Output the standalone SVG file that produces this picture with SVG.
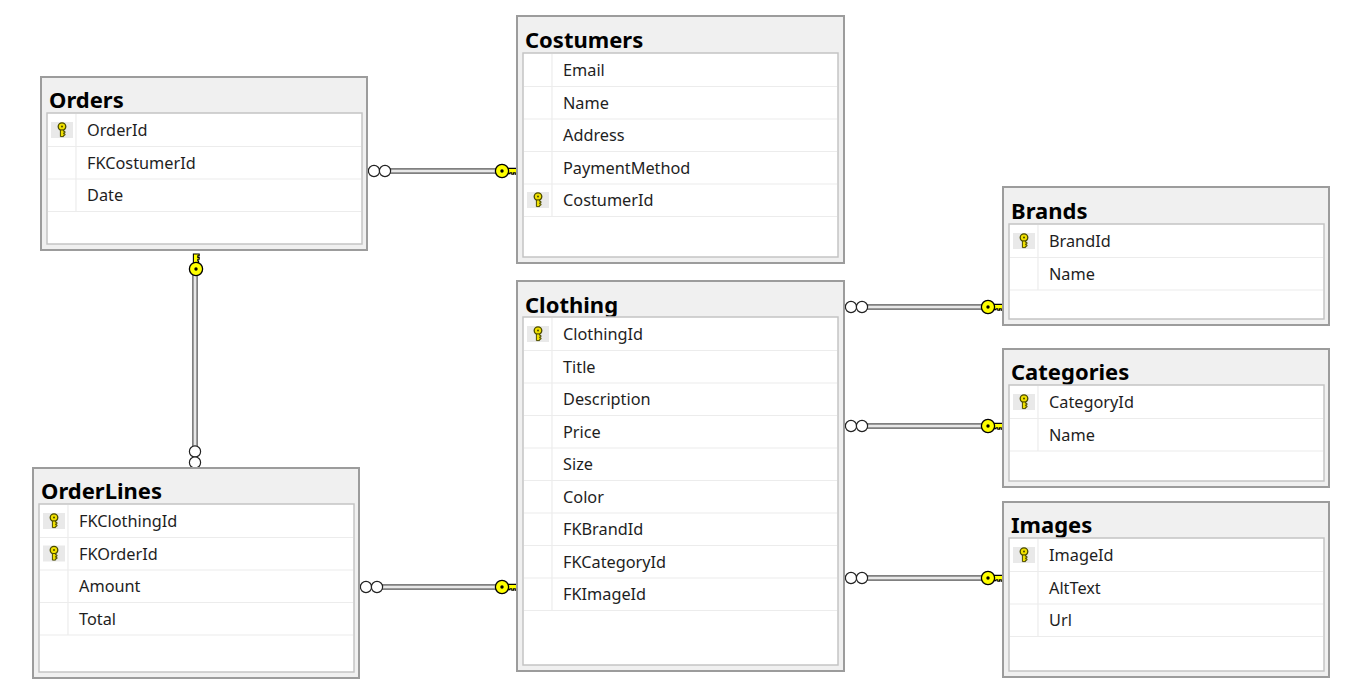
<svg xmlns="http://www.w3.org/2000/svg" width="1345" height="694" viewBox="0 0 1345 694">
  <style>
    .outer { fill: #f0f0f0; stroke: #9c9c9c; stroke-width: 2; }
    .inner { fill: #ffffff; stroke: #c4c4c4; stroke-width: 1.5; }
    .rowline { stroke: #ececec; stroke-width: 1.2; }
    .colline { stroke: #ececec; stroke-width: 1.2; }
    .title { font-family: "Segoe UI", "Noto Sans", "Open Sans", sans-serif; font-weight: bold; font-size: 22px; fill: #000000; }
    .field { font-family: "Segoe UI", "Noto Sans", "Open Sans", sans-serif; font-size: 16.3px; fill: #1e1e1e; }
    .keybg { fill: #e9e9e9; }
    .line-out { stroke: #808080; stroke-width: 6; fill: none; }
    .line-in { stroke: #e8e8e8; stroke-width: 2.6; fill: none; }
  </style>
  <defs>
    <!-- primary-key glyph shown in the key column -->
    <g id="pk">
      <rect class="keybg" x="0" y="0" width="22" height="16"/>
      <circle cx="11" cy="4.6" r="3.8" fill="#f0e000" stroke="#4a4a00" stroke-width="1.3"/>
      <circle cx="11" cy="4.6" r="1" fill="#4a4a00"/>
      <path d="M9.4 8 V14.6 H12.6 V13.2 H14 V11.8 H12.6 V10.8 H14 V9.4 H12.6 V8 Z" fill="#f0e000" stroke="#4a4a00" stroke-width="1"/>
    </g>
    <!-- "one" end of a relationship: key pointing right -->
    <g id="keyend">
      <path d="M5 -2.6 H15 V3.2 H13.2 V1.8 H11.6 V3.2 H9.8 V1.8 H8 V2.6 H5 Z" fill="#ffff00" stroke="#000" stroke-width="1.1"/>
      <circle cx="0" cy="0" r="6.6" fill="#ffff00" stroke="#000" stroke-width="1.3"/>
      <circle cx="0" cy="0" r="1.7" fill="#000"/>
    </g>
    <!-- "many" end of a relationship: infinity sign -->
    <g id="manyend">
      <circle cx="0" cy="0" r="5.6" fill="#fff" stroke="#222" stroke-width="1.2"/>
      <circle cx="11" cy="0" r="5.6" fill="#fff" stroke="#222" stroke-width="1.2"/>
    </g>
  </defs>

  <rect x="0" y="0" width="1345" height="694" fill="#ffffff"/>

  <!-- relationships -->
  <g id="connectors">
    <!-- Orders -> Costumers -->
    <line class="line-out" x1="390" y1="171" x2="500" y2="171"/>
    <line class="line-in" x1="390" y1="171" x2="500" y2="171"/>
    <use href="#manyend" x="374" y="171"/>
    <use href="#keyend" x="502" y="171"/>
    <!-- OrderLines -> Orders -->
    <line class="line-out" x1="195" y1="265" x2="195" y2="447"/>
    <line class="line-in" x1="195" y1="265" x2="195" y2="447"/>
    <use href="#manyend" transform="translate(195 451.5) rotate(90)"/>
    <use href="#keyend" transform="translate(196 269) rotate(-90)"/>
    <!-- OrderLines -> Clothing -->
    <line class="line-out" x1="382" y1="587" x2="496" y2="587"/>
    <line class="line-in" x1="382" y1="587" x2="496" y2="587"/>
    <use href="#manyend" x="366" y="587"/>
    <use href="#keyend" x="502" y="587"/>
    <!-- Clothing -> Brands -->
    <line class="line-out" x1="866" y1="307" x2="982" y2="307"/>
    <line class="line-in" x1="866" y1="307" x2="982" y2="307"/>
    <use href="#manyend" x="851" y="307"/>
    <use href="#keyend" x="988" y="307"/>
    <!-- Clothing -> Categories -->
    <line class="line-out" x1="866" y1="426" x2="982" y2="426"/>
    <line class="line-in" x1="866" y1="426" x2="982" y2="426"/>
    <use href="#manyend" x="851" y="426"/>
    <use href="#keyend" x="988" y="426"/>
    <!-- Clothing -> Images -->
    <line class="line-out" x1="866" y1="578" x2="982" y2="578"/>
    <line class="line-in" x1="866" y1="578" x2="982" y2="578"/>
    <use href="#manyend" x="851" y="578"/>
    <use href="#keyend" x="988" y="578"/>
  </g>

  <!-- Orders -->
  <g id="orders" transform="translate(41 77)">
    <rect class="outer" x="0" y="0" width="326" height="173"/>
    <text class="title" x="8" y="31">Orders</text>
    <rect class="inner" x="6" y="36" width="315" height="131"/>
    <line class="colline" x1="35" y1="37" x2="35" y2="134.5"/>
    <line class="rowline" x1="7" y1="69.5" x2="320" y2="69.5"/>
    <line class="rowline" x1="7" y1="102" x2="320" y2="102"/>
    <line class="rowline" x1="7" y1="134.5" x2="320" y2="134.5"/>
    <use href="#pk" x="10" y="45"/>
    <text class="field" x="46" y="59">OrderId</text>
    <text class="field" x="46" y="91.5">FKCostumerId</text>
    <text class="field" x="46" y="124">Date</text>
  </g>

  <!-- Costumers -->
  <g id="costumers" transform="translate(517 16)">
    <rect class="outer" x="0" y="0" width="327" height="247"/>
    <text class="title" x="8" y="32">Costumers</text>
    <rect class="inner" x="6" y="37" width="315" height="204"/>
    <line class="colline" x1="35" y1="38" x2="35" y2="200.5"/>
    <line class="rowline" x1="7" y1="70.5" x2="320" y2="70.5"/>
    <line class="rowline" x1="7" y1="103" x2="320" y2="103"/>
    <line class="rowline" x1="7" y1="135.5" x2="320" y2="135.5"/>
    <line class="rowline" x1="7" y1="168" x2="320" y2="168"/>
    <line class="rowline" x1="7" y1="200.5" x2="320" y2="200.5"/>
    <use href="#pk" x="10" y="176"/>
    <text class="field" x="46" y="60">Email</text>
    <text class="field" x="46" y="92.5">Name</text>
    <text class="field" x="46" y="125">Address</text>
    <text class="field" x="46" y="157.5">PaymentMethod</text>
    <text class="field" x="46" y="190">CostumerId</text>
  </g>

  <!-- Clothing -->
  <g id="clothing" transform="translate(517 281)">
    <rect class="outer" x="0" y="0" width="327" height="390"/>
    <text class="title" x="8" y="32">Clothing</text>
    <rect class="inner" x="6" y="36" width="315" height="348"/>
    <line class="colline" x1="35" y1="37" x2="35" y2="329.5"/>
    <line class="rowline" x1="7" y1="69.5" x2="320" y2="69.5"/>
    <line class="rowline" x1="7" y1="102" x2="320" y2="102"/>
    <line class="rowline" x1="7" y1="134.5" x2="320" y2="134.5"/>
    <line class="rowline" x1="7" y1="167" x2="320" y2="167"/>
    <line class="rowline" x1="7" y1="199.5" x2="320" y2="199.5"/>
    <line class="rowline" x1="7" y1="232" x2="320" y2="232"/>
    <line class="rowline" x1="7" y1="264.5" x2="320" y2="264.5"/>
    <line class="rowline" x1="7" y1="297" x2="320" y2="297"/>
    <line class="rowline" x1="7" y1="329.5" x2="320" y2="329.5"/>
    <use href="#pk" x="10" y="45"/>
    <text class="field" x="46" y="59">ClothingId</text>
    <text class="field" x="46" y="91.5">Title</text>
    <text class="field" x="46" y="124">Description</text>
    <text class="field" x="46" y="156.5">Price</text>
    <text class="field" x="46" y="189">Size</text>
    <text class="field" x="46" y="221.5">Color</text>
    <text class="field" x="46" y="254">FKBrandId</text>
    <text class="field" x="46" y="286.5">FKCategoryId</text>
    <text class="field" x="46" y="319">FKImageId</text>
  </g>

  <!-- Brands -->
  <g id="brands" transform="translate(1003 187)">
    <rect class="outer" x="0" y="0" width="326" height="138"/>
    <text class="title" x="8" y="32">Brands</text>
    <rect class="inner" x="6" y="37" width="315" height="95"/>
    <line class="colline" x1="35" y1="38" x2="35" y2="103"/>
    <line class="rowline" x1="7" y1="70.5" x2="320" y2="70.5"/>
    <line class="rowline" x1="7" y1="103" x2="320" y2="103"/>
    <use href="#pk" x="10" y="46"/>
    <text class="field" x="46" y="60">BrandId</text>
    <text class="field" x="46" y="92.5">Name</text>
  </g>

  <!-- Categories -->
  <g id="categories" transform="translate(1003 349)">
    <rect class="outer" x="0" y="0" width="326" height="138"/>
    <text class="title" x="8" y="31">Categories</text>
    <rect class="inner" x="6" y="36" width="315" height="96"/>
    <line class="colline" x1="35" y1="37" x2="35" y2="102"/>
    <line class="rowline" x1="7" y1="69.5" x2="320" y2="69.5"/>
    <line class="rowline" x1="7" y1="102" x2="320" y2="102"/>
    <use href="#pk" x="10" y="45"/>
    <text class="field" x="46" y="59">CategoryId</text>
    <text class="field" x="46" y="91.5">Name</text>
  </g>

  <!-- Images -->
  <g id="images" transform="translate(1003 502)">
    <rect class="outer" x="0" y="0" width="326" height="175"/>
    <text class="title" x="8" y="31">Images</text>
    <rect class="inner" x="6" y="36" width="315" height="133"/>
    <line class="colline" x1="35" y1="37" x2="35" y2="134.5"/>
    <line class="rowline" x1="7" y1="69.5" x2="320" y2="69.5"/>
    <line class="rowline" x1="7" y1="102" x2="320" y2="102"/>
    <line class="rowline" x1="7" y1="134.5" x2="320" y2="134.5"/>
    <use href="#pk" x="10" y="45"/>
    <text class="field" x="46" y="59">ImageId</text>
    <text class="field" x="46" y="91.5">AltText</text>
    <text class="field" x="46" y="124">Url</text>
  </g>

  <!-- OrderLines -->
  <g id="orderlines" transform="translate(33 468)">
    <rect class="outer" x="0" y="0" width="326" height="210"/>
    <text class="title" x="8" y="31">OrderLines</text>
    <rect class="inner" x="6" y="36" width="315" height="168"/>
    <line class="colline" x1="35" y1="37" x2="35" y2="167"/>
    <line class="rowline" x1="7" y1="69.5" x2="320" y2="69.5"/>
    <line class="rowline" x1="7" y1="102" x2="320" y2="102"/>
    <line class="rowline" x1="7" y1="134.5" x2="320" y2="134.5"/>
    <line class="rowline" x1="7" y1="167" x2="320" y2="167"/>
    <use href="#pk" x="10" y="45"/>
    <use href="#pk" x="10" y="77.5"/>
    <text class="field" x="46" y="59">FKClothingId</text>
    <text class="field" x="46" y="91.5">FKOrderId</text>
    <text class="field" x="46" y="124">Amount</text>
    <text class="field" x="46" y="156.5">Total</text>
  </g>
</svg>
